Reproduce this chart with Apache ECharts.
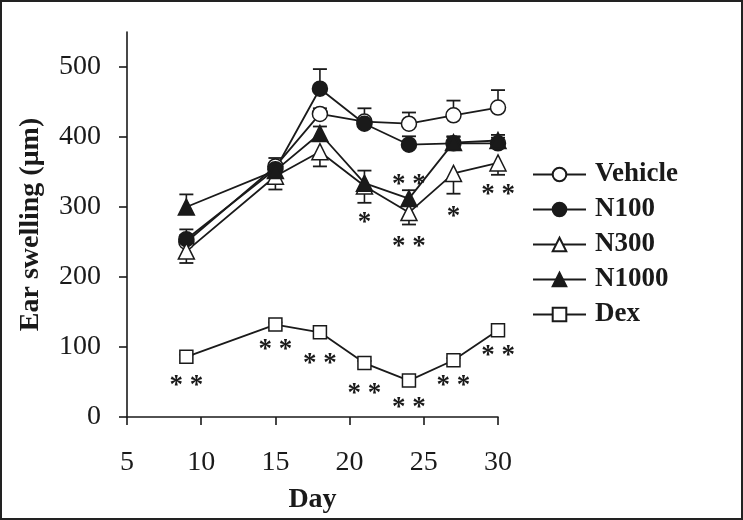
<!DOCTYPE html>
<html>
<head>
<meta charset="utf-8">
<script src="https://cdn.jsdelivr.net/npm/echarts@6/dist/echarts.min.js"></script>
<style>
html,body{margin:0;padding:0;background:#fff;}
#c{width:743px;height:520px;}
</style>
</head>
<body>
<div id="c"></div>
<script>
const days = [9, 15, 18, 21, 24, 27, 30];
const xTicks = [5, 10, 15, 20, 25, 30];
const yTicks = [0, 100, 200, 300, 400, 500];

const vehicle = [250, 358, 433, 422, 419, 431, 442];
const vehicleErr = [10, 12, 8, 19, 16, 21, 25];
const n100 = [254, 354, 469, 419, 389, 391, 391];
const n100Err = [14, 8, 28, 6, 12, 10, 8];
const n300 = [237, 344, 379, 330, 292, 348, 363];
const n300Err = [17, 19, 21, 24, 17, 29, 17];
const n1000 = [300, 352, 405, 334, 312, 392, 395];
const n1000Err = [18, 10, 10, 18, 12, 8, 8];
const dex = [86, 132, 121, 77, 52, 81, 124];
const dexErr = [3, 3, 3, 3, 3, 3, 3];

// significance marks: day, y position (data units), text
const sigDays = [21, 24, 24, 27, 30, 9, 15, 18, 21, 24, 27, 30];
const sigY = [283, 337, 249, 292, 323, 50, 101, 82, 38, 19, 50, 93];
const sigText = ['*', '* *', '* *', '*', '* *', '* *', '* *', '* *', '* *', '* *', '* *', '* *'];

const INK = '#1a1a1a';
const FONT = "'Liberation Serif','Times New Roman',serif";

function zip(a, b) { return a.map((v, i) => [a[i], b[i]]); }

function errData(vals, errs, dir) {
  return days.map((d, i) => [d, vals[i], vals[i] + dir * errs[i]]);
}

function errSeries(vals, errs, dir) {
  return {
    type: 'custom',
    silent: true,
    z: 1,
    data: errData(vals, errs, dir),
    renderItem: function (params, api) {
      const p0 = api.coord([api.value(0), api.value(1)]);
      const p1 = api.coord([api.value(0), api.value(2)]);
      const w = 7;
      return {
        type: 'group',
        children: [
          { type: 'line', shape: { x1: p0[0], y1: p0[1], x2: p1[0], y2: p1[1] }, style: { stroke: INK, lineWidth: 1.6 } },
          { type: 'line', shape: { x1: p1[0] - w, y1: p1[1], x2: p1[0] + w, y2: p1[1] }, style: { stroke: INK, lineWidth: 1.8 } }
        ]
      };
    }
  };
}

function lineSeries(name, vals, symbol, filled, size) {
  return {
    name: name,
    type: 'line',
    data: zip(days, vals),
    symbol: symbol,
    symbolSize: size,
    showAllSymbol: true,
    z: 3,
    lineStyle: { color: INK, width: 1.8 },
    itemStyle: { color: filled ? INK : '#fff', borderColor: INK, borderWidth: 1.5 },
    emphasis: { disabled: true },
    animation: false
  };
}

const chart = echarts.init(document.getElementById('c'), null, { renderer: 'canvas' });
chart.setOption({
  animation: false,
  backgroundColor: '#fff',
  textStyle: { fontFamily: FONT, color: INK },
  graphic: [{
    type: 'rect', z: 100, silent: true,
    shape: { x: 1, y: 1, width: 741, height: 518 },
    style: { fill: 'none', stroke: '#222', lineWidth: 2 }
  }],
  grid: { left: 127, right: 245, top: 32, bottom: 103, containLabel: false },
  legend: {
    orient: 'vertical',
    left: 527,
    top: 156,
    itemWidth: 53,
    itemHeight: 17,
    itemGap: 8,
    data: ['Vehicle', 'N100', 'N300', 'N1000', 'Dex'],
    textStyle: { fontFamily: FONT, fontSize: 27, fontWeight: 'bold', color: INK, padding: [0, 0, 0, 4] }
  },
  xAxis: {
    type: 'value',
    min: 5, max: 30, interval: 5,
    name: 'Day',
    nameLocation: 'middle',
    nameGap: 69,
    nameTextStyle: { fontFamily: FONT, fontSize: 28, fontWeight: 'bold', color: INK },
    axisLine: { show: true, lineStyle: { color: INK, width: 1.6 } },
    axisTick: { show: true, length: 8, inside: false, lineStyle: { color: INK, width: 1.6 }, customValues: xTicks },
    axisLabel: { fontFamily: FONT, fontSize: 28, color: INK, margin: 32, customValues: xTicks },
    splitLine: { show: false }
  },
  yAxis: {
    type: 'value',
    min: 0, max: 550, interval: 100,
    name: 'Ear swelling (μm)',
    nameLocation: 'middle',
    nameGap: 82,
    nameTextStyle: { fontFamily: FONT, fontSize: 28, fontWeight: 'bold', color: INK },
    axisLine: { show: true, lineStyle: { color: INK, width: 1.6 } },
    axisTick: { show: true, length: 8, inside: false, lineStyle: { color: INK, width: 1.6 }, customValues: yTicks },
    axisLabel: { fontFamily: FONT, fontSize: 28, color: INK, margin: 26, customValues: yTicks },
    splitLine: { show: false }
  },
  series: [
    errSeries(vehicle, vehicleErr, 1),
    errSeries(n100, n100Err, 1),
    errSeries(n300, n300Err, -1),
    errSeries(n1000, n1000Err, 1),
    errSeries(dex, dexErr, 1),
    lineSeries('Vehicle', vehicle, 'circle', false, 15),
    lineSeries('N100', n100, 'circle', true, 15),
    lineSeries('N300', n300, 'triangle', false, 16),
    lineSeries('N1000', n1000, 'triangle', true, 16),
    lineSeries('Dex', dex, 'rect', false, 13),
    {
      type: 'custom',
      silent: true,
      z: 5,
      data: sigDays.map((d, i) => [d, sigY[i]]),
      renderItem: function (params, api) {
        const p = api.coord([api.value(0), api.value(1)]);
        return {
          type: 'text',
          x: p[0], y: p[1] + 4,
          style: {
            text: sigText[params.dataIndex],
            fontFamily: FONT, fontSize: 27, fontWeight: 'bold', fill: INK,
            align: 'center', verticalAlign: 'middle'
          }
        };
      }
    }
  ]
});
</script>
</body>
</html>
